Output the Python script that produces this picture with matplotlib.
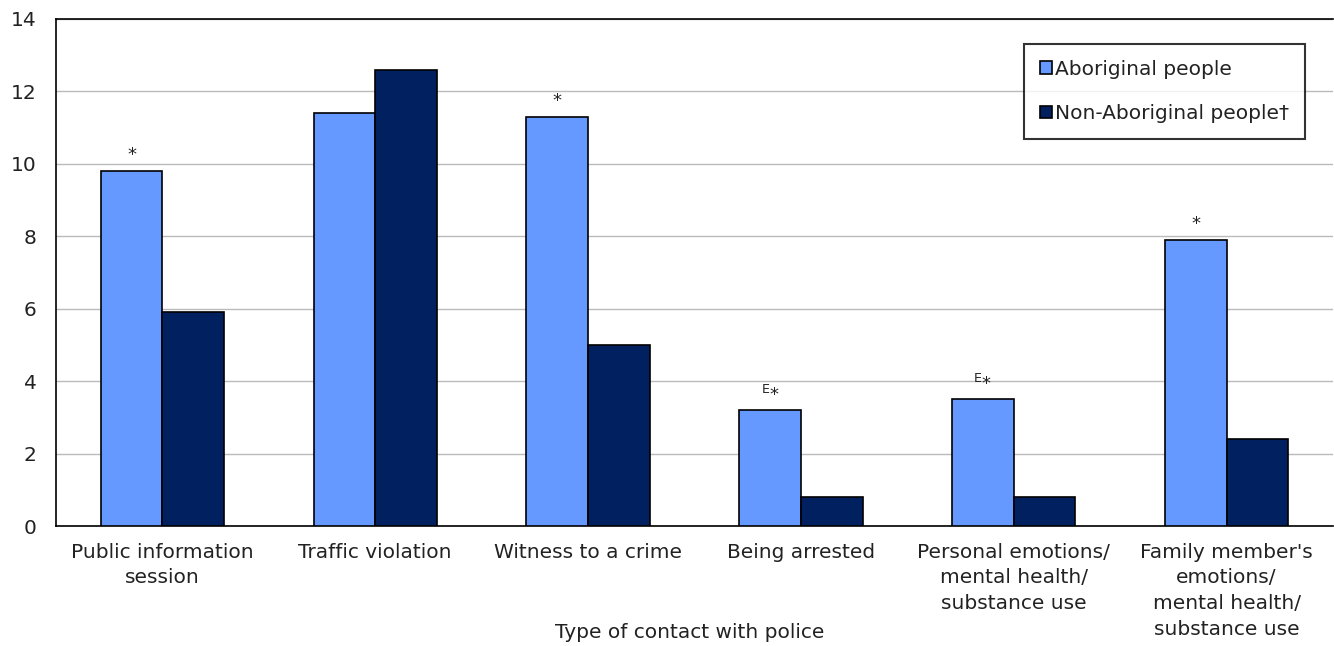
import matplotlib
matplotlib.use("Agg")
import matplotlib.pyplot as plt
import numpy as np

categories = ["Public information\nsession", "Traffic violation", "Witness to a crime",
              "Being arrested", "Personal emotions/\nmental health/\nsubstance use",
              "Family member's\nemotions/\nmental health/\nsubstance use"]
aboriginal = [9.8, 11.4, 11.3, 3.2, 3.5, 7.9]
non_aboriginal = [5.9, 12.6, 5.0, 0.8, 0.8, 2.4]
annotations = ["*", "", "*", "E*", "E*", "*"]

plt.rcParams['font.family'] = ['DejaVu Sans']
FS = 14.5
fig = plt.figure(figsize=(13.34, 6.46), dpi=100)
ax = fig.add_axes([56/1334, 1 - 526/646, (1333 - 56)/1334, (526 - 19)/646])

x = np.arange(len(categories))
w = 0.29
ax.bar(x - w/2, aboriginal, w, color="#6699ff", edgecolor="black", linewidth=1.2,
       label="Aboriginal people", zorder=3)
ax.bar(x + w/2, non_aboriginal, w, color="#002060", edgecolor="black", linewidth=1.2,
       label="Non-Aboriginal people\u2020", zorder=3)

for xi, v, a in zip(x, aboriginal, annotations):
    if not a:
        continue
    txt = "$^{\\mathrm{E}}$*" if a == "E*" else a
    ax.annotate(txt, (xi - w/2, v), xytext=(0, 5), textcoords="offset points",
                ha="center", va="bottom", fontsize=13, color="#222222")

ax.set_xlim(-0.5, len(categories) - 0.5)
ax.set_ylim(0, 14)
ax.set_yticks(np.arange(0, 15, 2))
ax.yaxis.grid(True, color="#bbbbbb", linewidth=1, zorder=0)
ax.set_axisbelow(True)
ax.tick_params(axis="y", length=0, labelsize=FS, pad=14, labelcolor="#222222")
ax.tick_params(axis="x", length=0, labelsize=FS, pad=12, labelcolor="#222222")
ax.set_xticks(x)
ax.set_xticklabels(categories, linespacing=1.45)
for s in ax.spines.values():
    s.set_color("black")
    s.set_linewidth(1.2)
ax.spines["right"].set_visible(False)

fig.text(690/1334, 1 - 632/646, "Type of contact with police", fontsize=FS,
         color="#222222", ha="center", va="center")

leg = ax.legend(loc="upper right", bbox_to_anchor=(0.978, 0.951), fontsize=FS,
                frameon=True, fancybox=False, edgecolor="black", handlelength=0.6,
                handleheight=0.6, handletextpad=0.15, labelspacing=1.25, borderpad=0.8,
                borderaxespad=0.0)
leg.get_frame().set_linewidth(1.5)
for t in leg.get_texts():
    t.set_color("#222222")

fig.savefig("out.png", dpi=100, facecolor="white")
